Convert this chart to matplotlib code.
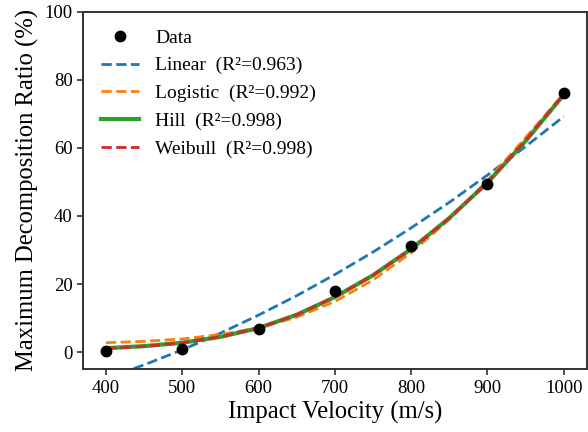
import matplotlib
matplotlib.use("Agg")
import matplotlib.pyplot as plt

plt.rcParams['font.family'] = ['Liberation Serif', 'DejaVu Serif']
plt.rcParams['mathtext.fontset'] = 'stix'

# Measured data
velocity = [400, 500, 600, 700, 800, 900, 1000]
ratio = [0.3, 0.9, 6.9, 18.1, 31.3, 49.5, 76.2]

# Fitted curves
curve_x = [400, 450, 500, 550, 600, 650, 700, 750, 800, 850, 900, 950, 1000]
linear_y = [-7.7, -3.7, 0.7, 5.6, 10.9, 16.6, 22.8, 29.4, 36.5, 44.0, 52.0, 60.4, 69.2]
logistic_y = [2.8, 3.2, 3.9, 5.2, 7.2, 10.3, 14.9, 21.2, 29.2, 39.0, 50.4, 63.0, 75.9]
hill_y = [1.2, 1.8, 2.8, 4.5, 7.1, 11.0, 16.2, 22.6, 30.3, 39.4, 49.8, 62.0, 75.6]
weibull_y = [1.1, 1.7, 2.8, 4.5, 7.1, 11.0, 16.2, 22.6, 30.3, 39.4, 49.8, 62.1, 75.8]

labels = ['Data', 'Linear  (R\u00b2=0.963)', 'Logistic  (R\u00b2=0.992)',
          'Hill  (R\u00b2=0.998)', 'Weibull  (R\u00b2=0.998)']
x_ticks = [400, 500, 600, 700, 800, 900, 1000]
y_ticks = [0, 20, 40, 60, 80, 100]

fig = plt.figure(figsize=(5.88, 4.32), dpi=100)
ax = fig.add_axes([83 / 588, 1 - 369.3 / 432, (586.7 - 83) / 588, (369.3 - 11.5) / 432])

l_lin, = ax.plot(curve_x, linear_y, '--', color='#1f77b4', lw=2, label=labels[1])
l_log, = ax.plot(curve_x, logistic_y, '--', color='#ff7f0e', lw=2, label=labels[2])
l_hill, = ax.plot(curve_x, hill_y, '-', color='#2ca02c', lw=3, label=labels[3])
l_wei, = ax.plot(curve_x, weibull_y, '--', color='#d62728', lw=2, label=labels[4])
l_dat, = ax.plot(velocity, ratio, 'o', color='black', ms=7.5, zorder=5,
                 linestyle='none', label=labels[0])

ax.set_xlim(370, 1030)
ax.set_ylim(-5, 100)
ax.set_xticks(x_ticks)
ax.set_yticks(y_ticks)
ax.tick_params(labelsize=13.5, width=1.2, length=4, color='#333333')
for s in ax.spines.values():
    s.set_linewidth(1.4)
    s.set_color('#333333')

ax.set_xlabel('Impact Velocity (m/s)', fontsize=17.7, labelpad=3)
ax.set_ylabel('Maximum Decomposition Ratio (%)', fontsize=17.7, labelpad=4)

ax.legend(handles=[l_dat, l_lin, l_log, l_hill, l_wei], loc='upper left',
          frameon=False, fontsize=14, labelspacing=0.52, handlelength=2.0)

fig.savefig('out.png', dpi=100)
